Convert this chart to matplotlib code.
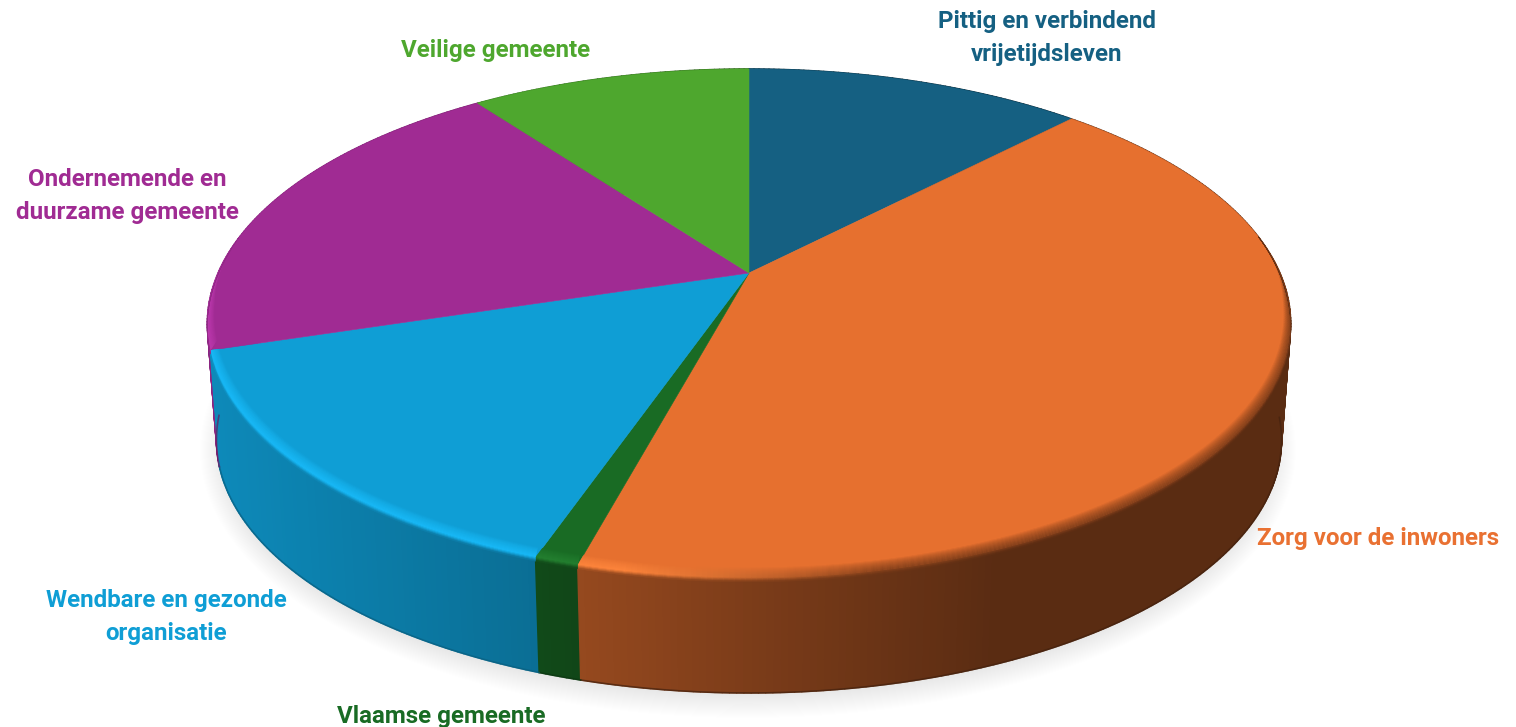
import numpy as np
import matplotlib
matplotlib.use("Agg")
import matplotlib.pyplot as plt
from matplotlib.collections import PolyCollection
from matplotlib.colors import to_rgb
from matplotlib.patches import Ellipse, Polygon

labels = ["Pittig en verbindend\nvrijetijdsleven", "Zorg voor de inwoners", "Vlaamse gemeente",
          "Wendbare en gezonde\norganisatie", "Ondernemende en\nduurzame gemeente", "Veilige gemeente"]
shares = [12.2, 42.0, 1.1, 14.9, 19.7, 10.1]
colors = ["#156082", "#E6702F", "#196B24", "#0F9ED5", "#A02B93", "#4EA72E"]
label_x = [1047, 1378, 441, 166, 127, 496]
label_y = [38, 539, 716, 617, 196, 51]

K = 0.198
CX = 749


def project(t, a, b, cy):
    # circle seen in perspective, t runs clockwise from the top
    d = 1 + K * np.cos(t)
    return CX + a * np.sin(t) / d, cy - b * np.cos(t) / d


def top(t):
    return project(t, 531, 244.5, 273)


def bottom(t):
    return project(t, 522, 243, 390)


def side_shade(x):
    return np.interp(x, [210, 530, 580, 780, 1000], [0.87, 0.70, 0.65, 0.52, 0.39])


fig = plt.figure(figsize=(15.16, 7.27), dpi=100)
ax = fig.add_axes([0, 0, 1, 1])
ax.set_xlim(0, 1516)
ax.set_ylim(727, 0)
ax.axis("off")

# soft shadow under the pie
for g in np.linspace(-15, 15, 30):
    ax.add_patch(Ellipse((748, 450), 2 * (533 + g), 2 * (253 + g), fc="black", ec="none", alpha=0.005))

edges = np.radians(np.cumsum([0] + shares) * 3.6)

# outer wall, back to front
quads = []
for i, c in enumerate(colors):
    steps = max(int((edges[i + 1] - edges[i]) * 90), 2)
    ts = np.linspace(edges[i], edges[i + 1], steps + 1)
    for t0, t1 in zip(ts[:-1], ts[1:]):
        x0, y0 = top(t0)
        x1, y1 = top(t1)
        x2, y2 = bottom(t1)
        x3, y3 = bottom(t0)
        shade = side_shade((x0 + x1) / 2)
        quads.append((-np.cos((t0 + t1) / 2), [(x0, y0), (x1, y1), (x2, y2), (x3, y3)],
                      np.array(to_rgb(c)) * shade))
quads.sort(key=lambda q: q[0])
ax.add_collection(PolyCollection([q[1] for q in quads], facecolors=[q[2] for q in quads],
                                 edgecolors=[q[2] for q in quads], linewidths=1.0))

# dark line along the foot of the wall
for i, c in enumerate(colors):
    ts = np.linspace(edges[i], edges[i + 1], 200)
    ts = ts[np.cos(ts) < -0.1]
    if len(ts) > 1:
        x, y = bottom(ts)
        ax.plot(x, y, color=np.array(to_rgb(c)) * side_shade(x.mean()) * 0.75, lw=1.2, alpha=0.7)

# flat top of the pie
wedges = []
for i, c in enumerate(colors):
    x, y = top(np.linspace(edges[i], edges[i + 1], 300))
    pts = np.column_stack([np.r_[CX, x], np.r_[273, y]])
    wedges.append(ax.add_patch(Polygon(pts, closed=True, fc=c, ec=c, lw=0.4)))

# bevel along the front rim: highlight on the left, dark on the right
offsets = np.linspace(-10, 4, 15)
for i, c in enumerate(colors):
    base = np.array(to_rgb(c))
    inner_polys, inner_cols, outer_polys, outer_cols = [], [], [], []
    ts = np.linspace(edges[i], edges[i + 1], max(int((edges[i + 1] - edges[i]) * 120), 2) + 1)
    for t0, t1 in zip(ts[:-1], ts[1:]):
        tm = (t0 + t1) / 2
        s = np.clip((0.15 - np.cos(tm)) / 0.3, 0, 1)
        if s == 0:
            continue
        xm = top(tm)[0]
        wall = base * side_shade(xm)
        light = np.clip(base * 1.13 + 0.03, 0, 1)
        mix = np.clip((xm - 620) / 260, 0, 1)
        rim = light * (1 - mix) + (base * 0.75 * 0.5 + wall * 0.5) * mix
        x0, y0 = top(t0)
        x1, y1 = top(t1)
        sx0, sx1 = 0.7 * np.sin(t0), 0.7 * np.sin(t1)
        for o0, o1 in zip(offsets[:-1], offsets[1:]):
            om = (o0 + o1) / 2
            if om < 0:
                w = (1 + om / 10) ** 0.7
                inner_polys.append([(x0 + o0 * s * sx0, y0 + o0 * s), (x1 + o0 * s * sx1, y1 + o0 * s),
                                    (x1 + o1 * s * sx1, y1 + o1 * s), (x0 + o1 * s * sx0, y0 + o1 * s)])
                inner_cols.append(base * (1 - w) + rim * w)
            else:
                w = om / 4
                outer_polys.append([(x0, y0 + o0 * s), (x1, y1 + o0 * s), (x1, y1 + o1 * s), (x0, y0 + o1 * s)])
                outer_cols.append(rim * (1 - w) + wall * w)
    if inner_polys:
        band = PolyCollection(inner_polys, facecolors=inner_cols, edgecolors=inner_cols, linewidths=0.3)
        ax.add_collection(band)
        band.set_clip_path(wedges[i])
        ax.add_collection(PolyCollection(outer_polys, facecolors=outer_cols, edgecolors=outer_cols, linewidths=0.3))

text_colors = ["#156082", "#E97132", "#196B24", "#0F9ED5", "#A02B93", "#4EA72E"]
for name, x, y, c in zip(labels, label_x, label_y, text_colors):
    ax.text(x, y, name, color=c, ha="center", va="center", family="Roboto", weight="bold",
            fontsize=17.4, linespacing=1.53)

fig.savefig("out.png", dpi=100)
